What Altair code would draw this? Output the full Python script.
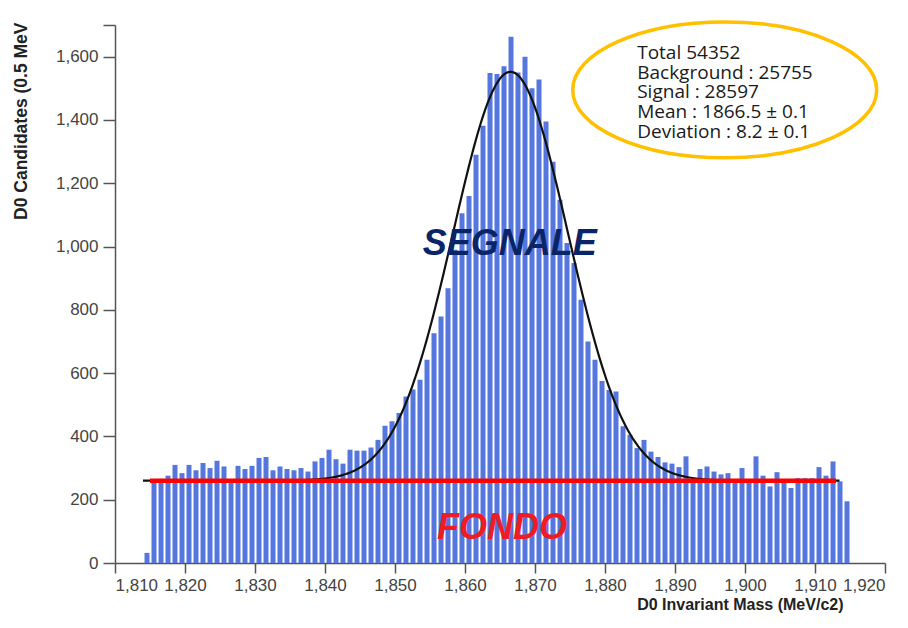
import altair as alt
import numpy as np
import pandas as pd

# D0 invariant-mass histogram: 1 MeV bins, lower edges 1814 ... 1914 MeV
bin_start = list(range(1814, 1915))
candidates = [32, 265, 266, 276, 310, 284, 310, 293, 316, 300,
              323, 305, 258, 307, 297, 307, 332, 335, 293, 305,
              297, 293, 300, 289, 321, 332, 358, 328, 314, 358,
              355, 355, 365, 389, 434, 448, 474, 526, 548, 579,
              642, 726, 779, 868, 990, 1105, 1160, 1290, 1382, 1548,
              1545, 1570, 1663, 1550, 1600, 1500, 1528, 1395, 1268, 1148,
              1011, 948, 832, 700, 642, 575, 547, 542, 432, 405,
              363, 389, 352, 335, 318, 314, 303, 337, 262, 297,
              305, 289, 280, 284, 265, 300, 258, 337, 276, 242,
              287, 258, 237, 268, 268, 268, 303, 276, 321, 258, 195]

# Fit: flat background + gaussian signal
fit_mean = 1866.5
fit_sigma = 8.2
fit_background = 260
fit_peak = 1292
fit_range = [1814.0, 1913.5]
background_range = [1815.0, 1913.0]

stats_lines = ["Total 54352", "Background : 25755", "Signal : 28597",
               "Mean : 1866.5 \u00b1 0.1", "Deviation : 8.2 \u00b1 0.1"]

hist = pd.DataFrame({"mass": bin_start, "mass_end": [b + 1 for b in bin_start],
                     "value": candidates})

fit_x = np.arange(fit_range[0], fit_range[1] + 0.001, 0.25)
fit_y = fit_background + fit_peak * np.exp(-((fit_x - fit_mean) ** 2) / (2 * fit_sigma ** 2))
fit = pd.DataFrame({"mass": fit_x, "value": fit_y})

bkg = pd.DataFrame({"mass": background_range,
                    "value": [fit_background, fit_background]})

x_scale = alt.Scale(domain=[1810, 1920], nice=False, zero=False)
y_scale = alt.Scale(domain=[0, 1700], nice=False)

axis_common = dict(domainColor="#555", tickColor="#555", domainWidth=1.5,
                   tickWidth=1.5, labelFont="Liberation Sans", labelFontSize=17,
                   labelColor="#444", titleFont="Liberation Sans",
                   titleFontWeight="bold", titleColor="#222",
                   grid=False, labelOverlap=False)

x_axis = alt.Axis(values=list(range(1810, 1921, 10)),
                  labelExpr="format(datum.value, ',')",
                  tickSize=10, labelPadding=4,
                  title="D0 Invariant Mass (MeV/c2)", titleFontSize=16,
                  titleX=728, titleY=41, titleAlign="right",
                  titleBaseline="middle", **axis_common)
y_axis = alt.Axis(values=list(range(0, 1601, 200)) + [1700],
                  labelExpr="datum.value == 1700 ? '' : format(datum.value, ',')",
                  tickSize=12, labelPadding=5,
                  title="D0 Candidates (0.5 MeV", titleFontSize=17.5,
                  titleAngle=270, titleX=-94, titleY=-3,
                  titleAlign="right", titleBaseline="middle",
                  **axis_common)


def xy():
    return dict(x=alt.X("mass:Q", scale=x_scale, axis=x_axis),
                y=alt.Y("value:Q", scale=y_scale, axis=y_axis))


bars = alt.Chart(hist).mark_bar(color="#5577dd", binSpacing=2).encode(
    x=alt.X("mass:Q", bin="binned", scale=x_scale, axis=x_axis),
    x2="mass_end:Q",
    y=alt.Y("value:Q", scale=y_scale, axis=y_axis),
)

fit_line = alt.Chart(fit).mark_line(color="#111", strokeWidth=2.2).encode(**xy())

bkg_line = alt.Chart(bkg).mark_line(color="#ff0000", strokeWidth=4.5).encode(**xy())

labels = pd.DataFrame({"mass": [1866.4, 1865.3], "value": [974, 77],
                       "label": ["SEGNALE", "FONDO"],
                       "kind": ["signal", "background"]})

region_text = alt.Chart(labels).mark_text(
    font="Liberation Sans", fontSize=36, fontWeight="bold", fontStyle="italic",
    align="center", baseline="alphabetic",
).encode(
    text="label:N",
    color=alt.Color("kind:N", legend=None,
                    scale=alt.Scale(domain=["signal", "background"],
                                    range=["#0a2468", "#ee1c25"])),
    **xy(),
)

stats_pos = pd.DataFrame({"mass": [1884.6], "value": [1593]})
stats_text = alt.Chart(stats_pos).mark_text(
    font="Open Sans", fontSize=19, lineHeight=19.75, align="left",
    baseline="alphabetic", color="#1a1a1a",
).encode(text=alt.value(stats_lines), **xy())

# Ellipse outline around the fit summary (unit-width path, scaled by size)
ry = 0.447
k = 0.5523
ellipse_path = (
    f"M -1 0 C -1 {-k*ry:.4f} {-k:.4f} {-ry} 0 {-ry} "
    f"C {k:.4f} {-ry} 1 {-k*ry:.4f} 1 0 "
    f"C 1 {k*ry:.4f} {k:.4f} {ry} 0 {ry} "
    f"C {-k:.4f} {ry} -1 {k*ry:.4f} -1 0 Z"
)
ellipse_pos = pd.DataFrame({"mass": [1897.1], "value": [1495]})
ellipse = alt.Chart(ellipse_pos).mark_point(
    shape=ellipse_path, size=304 * 304, filled=False, stroke="#ffc000",
    strokeWidth=3.5, opacity=1,
).encode(**xy())

chart = alt.layer(bars, fit_line, bkg_line, region_text, stats_text, ellipse).properties(
    width=770, height=538,
    background="white",
    autosize=alt.AutoSizeParams(type="none"),
    padding={"left": 115, "top": 25, "right": 23, "bottom": 65},
).configure_view(strokeWidth=0)

chart.save("out.html", embed_options={"renderer": "svg", "actions": False})
